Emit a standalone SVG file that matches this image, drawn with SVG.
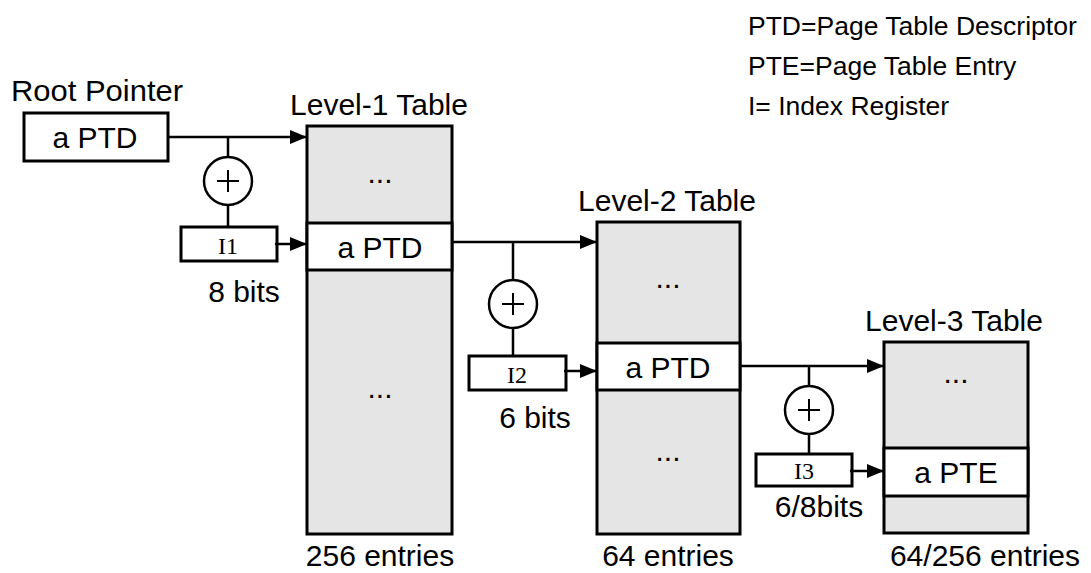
<svg xmlns="http://www.w3.org/2000/svg" width="1091" height="573" viewBox="0 0 1091 573">
<style>
text{font-family:"Liberation Sans",Arial,Helvetica,sans-serif;font-size:30px;fill:#000}
.c{text-anchor:middle}
.lg{font-size:26.5px}
.reg{font-family:"Liberation Serif","Times New Roman",serif;font-size:24px;text-anchor:middle}
.box{fill:#fff;stroke:#000;stroke-width:3}
.tbl{fill:#e5e5e5;stroke:#000;stroke-width:3}
.ln{fill:none;stroke:#000;stroke-width:2.5}
.arr{fill:none;stroke:#000;stroke-width:2.5;marker-end:url(#ah)}
.plus{fill:none;stroke:#000;stroke-width:2}
</style>
<defs>
<marker id="ah" markerUnits="userSpaceOnUse" markerWidth="18" markerHeight="14" refX="17" refY="7" orient="auto">
<path d="M0,0 L17,7 L0,14 Z" fill="#000"/>
</marker>
</defs>
<g id="legend">
<text class="lg" x="748" y="35">PTD=Page Table Descriptor</text>
<text class="lg" x="748" y="75">PTE=Page Table Entry</text>
<text class="lg" x="748" y="115">I= Index Register</text>
</g>
<g id="root">
<text x="11" y="101" textLength="172" lengthAdjust="spacingAndGlyphs">Root Pointer</text>
<rect class="box" x="24" y="113" width="144" height="48"/>
<text class="c" x="95" y="148">a PTD</text>
</g>
<g id="table1">
<text class="c" x="379" y="115">Level-1 Table</text>
<rect class="tbl" x="307" y="126" width="145" height="408"/>
<rect class="box" x="307" y="223" width="145" height="47"/>
<text class="c" x="380" y="183">...</text>
<text class="c" x="380" y="258">a PTD</text>
<text class="c" x="380" y="398">...</text>
<text class="c" x="380" y="566">256 entries</text>
</g>
<g id="table2">
<text class="c" x="667" y="211">Level-2 Table</text>
<rect class="tbl" x="597" y="222" width="143" height="312"/>
<rect class="box" x="597" y="343" width="143" height="47"/>
<text class="c" x="668" y="288">...</text>
<text class="c" x="668" y="378">a PTD</text>
<text class="c" x="668" y="461">...</text>
<text class="c" x="668" y="566">64 entries</text>
</g>
<g id="table3">
<text class="c" x="954" y="331">Level-3 Table</text>
<rect class="tbl" x="884" y="342" width="144" height="191"/>
<rect class="box" x="884" y="448" width="144" height="48"/>
<text class="c" x="956" y="383">...</text>
<text class="c" x="956" y="483">a PTE</text>
<text class="c" x="985" y="566">64/256 entries</text>
</g>
<g id="adder1">
<circle class="box" cx="228" cy="181" r="24" style="stroke-width:2.5"/>
<path class="plus" d="M217,181 H239 M228,170 V192"/>
</g>
<g id="adder2">
<circle class="box" cx="513" cy="304" r="24" style="stroke-width:2.5"/>
<path class="plus" d="M502,304 H524 M513,293 V315"/>
</g>
<g id="adder3">
<circle class="box" cx="809" cy="410" r="24" style="stroke-width:2.5"/>
<path class="plus" d="M798,410 H820 M809,399 V421"/>
</g>
<g id="reg1">
<rect class="box" x="181" y="227" width="96" height="34"/>
<text class="reg" x="228" y="254">I1</text>
<text class="c" x="244" y="302">8 bits</text>
</g>
<g id="reg2">
<rect class="box" x="469" y="356" width="97" height="34"/>
<text class="reg" x="517" y="383">I2</text>
<text class="c" x="535" y="428">6 bits</text>
</g>
<g id="reg3">
<rect class="box" x="756" y="454" width="96" height="32"/>
<text class="reg" x="804" y="479">I3</text>
<text class="c" x="819" y="517">6/8bits</text>
</g>
<g id="connectors">
<path class="arr" d="M168,137 H307"/>
<path class="ln" d="M228,137 V157 M228,205 V227"/>
<path class="arr" d="M275,244 H307"/>
<path class="arr" d="M452,242 H597"/>
<path class="ln" d="M513,242 V280 M513,328 V356"/>
<path class="arr" d="M564,371 H597"/>
<path class="arr" d="M740,366 H884"/>
<path class="ln" d="M809,366 V386 M809,434 V454"/>
<path class="arr" d="M850,471 H884"/>
</g>
</svg>
